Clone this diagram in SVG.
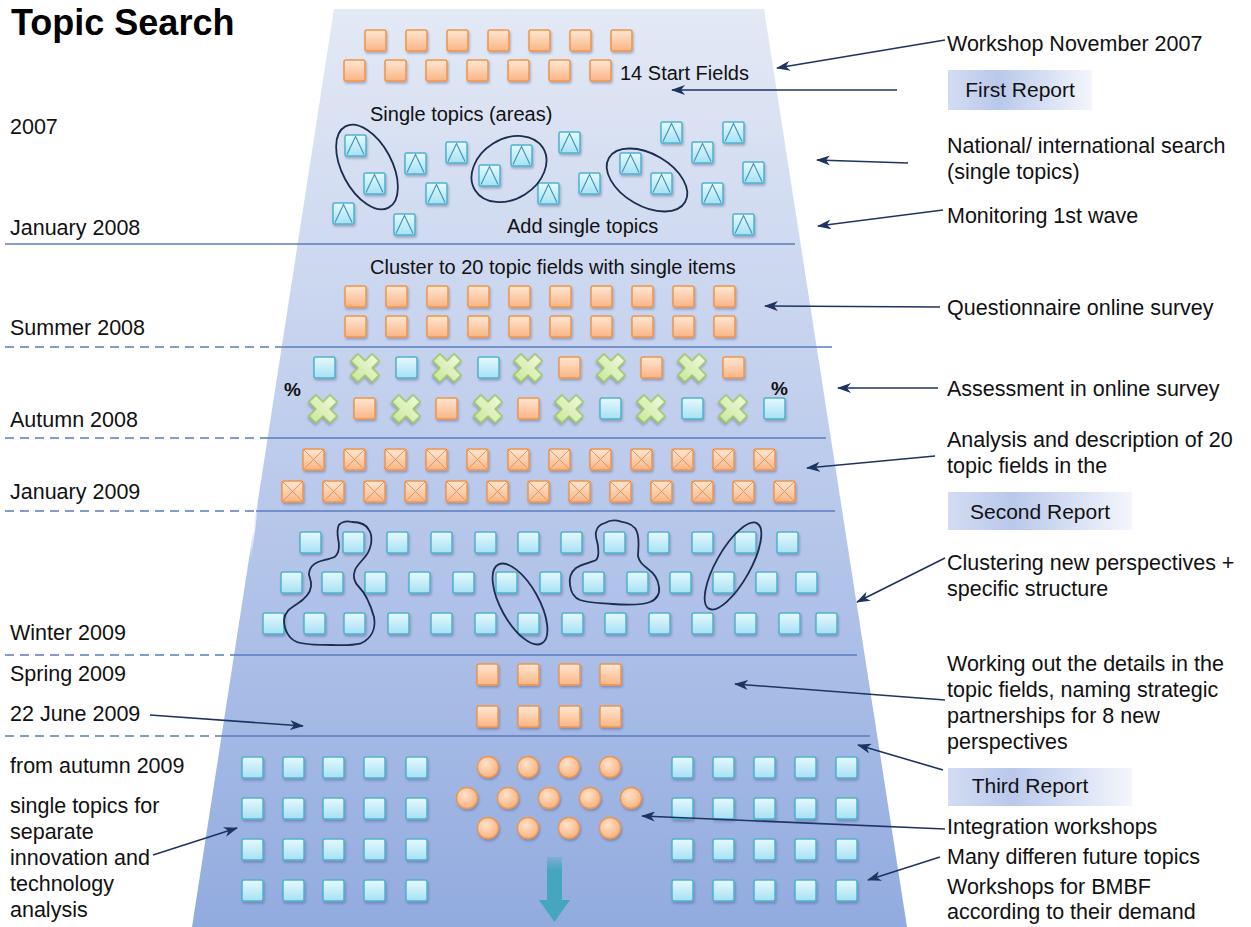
<svg xmlns="http://www.w3.org/2000/svg" width="1251" height="927" viewBox="0 0 1251 927">
<style>
.lbl{font-family:"Liberation Sans",Arial,sans-serif;font-size:21.5px;fill:#111}
.ctr{font-family:"Liberation Sans",Arial,sans-serif;font-size:20px;fill:#111}
.pct{font-family:"Liberation Sans",Arial,sans-serif;font-size:19px;font-weight:bold;fill:#111}
.title{font-family:"Liberation Sans",Arial,sans-serif;font-size:36px;font-weight:bold;fill:#000}
.rep{font-family:"Liberation Sans",Arial,sans-serif;font-size:21px;fill:#111;text-anchor:middle}
.sep{stroke:#5a7dbd;stroke-width:1.3;fill:none}
.dash{stroke:#5a7dbd;stroke-width:1.3;stroke-dasharray:9 6;fill:none}
.arr{stroke:#1d3461;stroke-width:1.6;fill:none;marker-end:url(#ah)}
.blob{stroke:#1c2c4e;stroke-width:1.8;fill:none}
</style>
<defs>
<linearGradient id="bg" x1="0" y1="0" x2="0" y2="1">
<stop offset="0" stop-color="#e3e9f5"/>
<stop offset="0.5" stop-color="#bccbec"/>
<stop offset="1" stop-color="#92abdf"/>
</linearGradient>
<linearGradient id="gO" x1="0" y1="0" x2="0" y2="1">
<stop offset="0" stop-color="#fee7d3"/>
<stop offset="1" stop-color="#fab585"/>
</linearGradient>
<linearGradient id="gB" x1="0" y1="0" x2="0" y2="1">
<stop offset="0" stop-color="#e6f9fe"/>
<stop offset="1" stop-color="#a6e1f4"/>
</linearGradient>
<linearGradient id="gG" x1="0" y1="0" x2="0" y2="1">
<stop offset="0" stop-color="#eef8d9"/>
<stop offset="1" stop-color="#cce99e"/>
</linearGradient>
<radialGradient id="gC" cx="0.4" cy="0.35" r="0.7">
<stop offset="0" stop-color="#fde2cb"/>
<stop offset="1" stop-color="#f8b07a"/>
</radialGradient>
<linearGradient id="gR" x1="0" y1="0" x2="1" y2="0">
<stop offset="0" stop-color="#d3dcf2"/>
<stop offset="0.35" stop-color="#b9c8eb"/>
<stop offset="1" stop-color="#f4f6fc"/>
</linearGradient>
<linearGradient id="gA" x1="0" y1="0" x2="0" y2="1">
<stop offset="0" stop-color="#47a6bf" stop-opacity="0.3"/>
<stop offset="0.3" stop-color="#47a6bf"/>
<stop offset="1" stop-color="#47a6bf"/>
</linearGradient>
<linearGradient id="hl" x1="0" y1="0" x2="0" y2="1">
<stop offset="0" stop-color="#ffffff" stop-opacity="0"/>
<stop offset="0.5" stop-color="#ffffff" stop-opacity="0.9"/>
<stop offset="1" stop-color="#ffffff" stop-opacity="0"/>
</linearGradient>
<filter id="sh" x="-30%" y="-30%" width="170%" height="170%">
<feDropShadow dx="1" dy="2" stdDeviation="1.2" flood-color="#34456e" flood-opacity="0.35"/>
</filter>
<marker id="ah" markerWidth="14" markerHeight="10" refX="13" refY="5" orient="auto" markerUnits="userSpaceOnUse">
<path d="M0,0 L14,5 L0,10 L4,5 z" fill="#1d3461"/>
</marker>
<g id="sqO"><rect x="0" y="0" width="21" height="21" rx="2" fill="url(#gO)" stroke="#f1954a" stroke-width="1.5" filter="url(#sh)"/></g>
<g id="sqB"><rect x="0" y="0" width="21" height="21" rx="2" fill="url(#gB)" stroke="#4fb2cd" stroke-width="1.5" filter="url(#sh)"/></g>
<g id="sqX"><rect x="0" y="0" width="21" height="21" rx="2" fill="url(#gO)" stroke="#f1954a" stroke-width="1.5" filter="url(#sh)"/><path d="M1,1 L20,20 M20,1 L1,20" stroke="#e39660" stroke-width="1"/></g>
<g id="sqT"><rect x="0" y="0" width="21" height="21" rx="1.5" fill="url(#gB)" stroke="#4fb2cd" stroke-width="1.5" filter="url(#sh)"/><path d="M2,19.5 L10.5,1.5 L19,19.5" stroke="#3d93b6" stroke-width="1.1" fill="none"/></g>
<g id="xg"><polygon transform="rotate(45)" points="-5,-15 5,-15 5,-5 15,-5 15,5 5,5 5,15 -5,15 -5,5 -15,5 -15,-5 -5,-5" fill="url(#gG)" stroke="#9cc45c" stroke-width="1.5" stroke-linejoin="round" filter="url(#sh)"/></g>
<g id="cO"><circle cx="0" cy="0" r="10.5" fill="url(#gC)" stroke="#f1954a" stroke-width="1.3" filter="url(#sh)"/></g>
</defs>
<rect width="1251" height="927" fill="#ffffff"/>
<g id="funnel"><polygon points="334,9 764,9 907,927 192,927" fill="url(#bg)"/>
<line x1="258" y1="500" x2="250" y2="560" stroke="url(#hl)" stroke-width="2"/></g>
<g id="separators">
<line class="sep" x1="5" y1="244" x2="795" y2="244"/>
<line class="dash" x1="5" y1="347" x2="282" y2="347"/><line class="sep" x1="282" y1="347" x2="832" y2="347"/>
<line class="dash" x1="5" y1="438" x2="268" y2="438"/><line class="sep" x1="268" y1="438" x2="826" y2="438"/>
<line class="dash" x1="5" y1="511" x2="256" y2="511"/><line class="sep" x1="256" y1="511" x2="835" y2="511"/>
<line class="dash" x1="5" y1="655" x2="234" y2="655"/><line class="sep" x1="234" y1="655" x2="857" y2="655"/>
<line class="dash" x1="5" y1="736" x2="222" y2="736"/><line class="sep" x1="222" y1="736" x2="870" y2="736"/>
</g>
<text class="title" x="11" y="35">Topic Search</text>
<g id="timeline-labels">
<text class="lbl" x="10" y="134">2007</text>
<text class="lbl" x="10" y="235">January 2008</text>
<text class="lbl" x="10" y="335">Summer 2008</text>
<text class="lbl" x="10" y="427">Autumn 2008</text>
<text class="lbl" x="10" y="499">January 2009</text>
<text class="lbl" x="10" y="640">Winter 2009</text>
<text class="lbl" x="10" y="681">Spring 2009</text>
<text class="lbl" x="10" y="721">22 June 2009</text>
<text class="lbl" x="10" y="773">from autumn 2009</text>
<text class="lbl" x="10" y="813">single topics for</text>
<text class="lbl" x="10" y="839">separate</text>
<text class="lbl" x="10" y="865">innovation and</text>
<text class="lbl" x="10" y="891">technology</text>
<text class="lbl" x="10" y="917">analysis</text>
</g>
<g id="start-fields">
<use href="#sqO" x="365" y="30"/><use href="#sqO" x="406" y="30"/><use href="#sqO" x="447" y="30"/><use href="#sqO" x="488" y="30"/><use href="#sqO" x="529" y="30"/><use href="#sqO" x="570" y="30"/><use href="#sqO" x="611" y="30"/>
<use href="#sqO" x="344" y="60"/><use href="#sqO" x="385" y="60"/><use href="#sqO" x="426" y="60"/><use href="#sqO" x="467" y="60"/><use href="#sqO" x="508" y="60"/><use href="#sqO" x="549" y="60"/><use href="#sqO" x="590" y="60"/>
<text class="ctr" x="620" y="80">14 Start Fields</text>
</g>
<g id="single-topics">
<text class="ctr" x="370" y="121">Single topics (areas)</text>
<use href="#sqT" x="345" y="135"/><use href="#sqT" x="364" y="173"/><use href="#sqT" x="405" y="153"/><use href="#sqT" x="446" y="142"/><use href="#sqT" x="426" y="183"/><use href="#sqT" x="333" y="203"/><use href="#sqT" x="394" y="214"/><use href="#sqT" x="479" y="165"/><use href="#sqT" x="511" y="145"/><use href="#sqT" x="538" y="183"/><use href="#sqT" x="559" y="132"/><use href="#sqT" x="579" y="173"/><use href="#sqT" x="620" y="153"/><use href="#sqT" x="651" y="173"/><use href="#sqT" x="661" y="122"/><use href="#sqT" x="692" y="142"/><use href="#sqT" x="723" y="122"/><use href="#sqT" x="702" y="183"/><use href="#sqT" x="743" y="162"/><use href="#sqT" x="733" y="214"/>
<ellipse class="blob" cx="367" cy="167" rx="25" ry="46" transform="rotate(-28 367 167)"/>
<ellipse class="blob" cx="509" cy="169" rx="40" ry="30" transform="rotate(-32 509 169)"/>
<ellipse class="blob" cx="647" cy="180" rx="44" ry="26" transform="rotate(30 647 180)"/>
<text class="ctr" x="507" y="233">Add single topics</text>
</g>
<g id="cluster-fields">
<text class="ctr" x="370" y="274">Cluster to 20 topic fields with single items</text>
<use href="#sqO" x="345" y="286"/><use href="#sqO" x="386" y="286"/><use href="#sqO" x="427" y="286"/><use href="#sqO" x="468" y="286"/><use href="#sqO" x="509" y="286"/><use href="#sqO" x="550" y="286"/><use href="#sqO" x="591" y="286"/><use href="#sqO" x="632" y="286"/><use href="#sqO" x="673" y="286"/><use href="#sqO" x="714" y="286"/>
<use href="#sqO" x="345" y="316"/><use href="#sqO" x="386" y="316"/><use href="#sqO" x="427" y="316"/><use href="#sqO" x="468" y="316"/><use href="#sqO" x="509" y="316"/><use href="#sqO" x="550" y="316"/><use href="#sqO" x="591" y="316"/><use href="#sqO" x="632" y="316"/><use href="#sqO" x="673" y="316"/><use href="#sqO" x="714" y="316"/>
</g>
<g id="assessment">
<text class="pct" x="284" y="396">%</text>
<text class="pct" x="771" y="395">%</text>
<use href="#sqB" x="314" y="357"/><use href="#xg" x="365" y="368"/><use href="#sqB" x="396" y="357"/><use href="#xg" x="447" y="368"/><use href="#sqB" x="478" y="357"/><use href="#xg" x="528" y="368"/><use href="#sqO" x="559" y="357"/><use href="#xg" x="611" y="368"/><use href="#sqO" x="641" y="357"/><use href="#xg" x="692" y="368"/><use href="#sqO" x="723" y="357"/>
<use href="#xg" x="323" y="409"/><use href="#sqO" x="354" y="398"/><use href="#xg" x="406" y="409"/><use href="#sqO" x="436" y="398"/><use href="#xg" x="488" y="409"/><use href="#sqO" x="518" y="398"/><use href="#xg" x="569" y="409"/><use href="#sqB" x="600" y="398"/><use href="#xg" x="651" y="409"/><use href="#sqB" x="682" y="398"/><use href="#xg" x="733" y="409"/><use href="#sqB" x="764" y="398"/>
</g>
<g id="analysis-fields">
<use href="#sqX" x="303" y="449"/><use href="#sqX" x="344" y="449"/><use href="#sqX" x="385" y="449"/><use href="#sqX" x="426" y="449"/><use href="#sqX" x="467" y="449"/><use href="#sqX" x="508" y="449"/><use href="#sqX" x="549" y="449"/><use href="#sqX" x="590" y="449"/><use href="#sqX" x="631" y="449"/><use href="#sqX" x="672" y="449"/><use href="#sqX" x="713" y="449"/><use href="#sqX" x="754" y="449"/>
<use href="#sqX" x="282" y="481"/><use href="#sqX" x="323" y="481"/><use href="#sqX" x="364" y="481"/><use href="#sqX" x="405" y="481"/><use href="#sqX" x="446" y="481"/><use href="#sqX" x="487" y="481"/><use href="#sqX" x="528" y="481"/><use href="#sqX" x="569" y="481"/><use href="#sqX" x="610" y="481"/><use href="#sqX" x="651" y="481"/><use href="#sqX" x="692" y="481"/><use href="#sqX" x="733" y="481"/><use href="#sqX" x="774" y="481"/>
</g>
<g id="new-perspectives">
<use href="#sqB" x="300" y="532"/><use href="#sqB" x="343" y="532"/><use href="#sqB" x="387" y="532"/><use href="#sqB" x="431" y="532"/><use href="#sqB" x="475" y="532"/><use href="#sqB" x="518" y="532"/><use href="#sqB" x="561" y="532"/><use href="#sqB" x="604" y="532"/><use href="#sqB" x="648" y="532"/><use href="#sqB" x="692" y="532"/><use href="#sqB" x="735" y="532"/><use href="#sqB" x="777" y="532"/>
<use href="#sqB" x="281" y="572"/><use href="#sqB" x="322" y="572"/><use href="#sqB" x="365" y="572"/><use href="#sqB" x="409" y="572"/><use href="#sqB" x="453" y="572"/><use href="#sqB" x="496" y="572"/><use href="#sqB" x="540" y="572"/><use href="#sqB" x="583" y="572"/><use href="#sqB" x="627" y="572"/><use href="#sqB" x="670" y="572"/><use href="#sqB" x="713" y="572"/><use href="#sqB" x="756" y="572"/><use href="#sqB" x="796" y="572"/>
<use href="#sqB" x="263" y="613"/><use href="#sqB" x="304" y="613"/><use href="#sqB" x="344" y="613"/><use href="#sqB" x="388" y="613"/><use href="#sqB" x="431" y="613"/><use href="#sqB" x="475" y="613"/><use href="#sqB" x="518" y="613"/><use href="#sqB" x="562" y="613"/><use href="#sqB" x="605" y="613"/><use href="#sqB" x="649" y="613"/><use href="#sqB" x="692" y="613"/><use href="#sqB" x="735" y="613"/><use href="#sqB" x="779" y="613"/><use href="#sqB" x="816" y="613"/>
<path class="blob" d="M338.8,525 C343,521 348,521 352,522 C362,522 367,526 369,530 C373,536 372,547 366.5,555 C362,561 357,565 355,570 C352,578 355,583 359,587 C365,593 370,603 374,617 C376,628 372,638 361,643.3 C350,646 340,645 331,645 C318,645 305,645 297,642 C289,639 284,630 284,620 C285,612 289,609 297,604 C305,599 310,594 311,586.7 C312,579 308,576 309,573 C310,567 313,564 318,562 C324,560 330,559 335,556.7 C340,552 339,547 338.8,543 C338,537 336,532 338.8,525 Z"/>
<ellipse class="blob" cx="520" cy="604" rx="19" ry="45" transform="rotate(-29 520 604)"/>
<path class="blob" d="M605,523 C610,520 616,520 621,521.7 C630,523 635,526 637,532 C640,540 638,549 638,556 C639,562 643,565 648,569 C654,573 658,579 659,587 C660,594 657,599 650,602 C640,606 625,605 612,604 C600,603 588,603 580,600 C573,597 571,592 570,585 C569,578 571,572 576,568 C581,564 590,563 596,560 C600,556 598,550 598,546 C597,540 595,536 596,532 C597,527 601,524 605,523 Z"/>
<ellipse class="blob" cx="733" cy="566" rx="17" ry="49" transform="rotate(29.5 733 566)"/>
</g>
<g id="details">
<use href="#sqO" x="477" y="664"/><use href="#sqO" x="518" y="664"/><use href="#sqO" x="559" y="664"/><use href="#sqO" x="600" y="664"/>
<use href="#sqO" x="477" y="706"/><use href="#sqO" x="518" y="706"/><use href="#sqO" x="559" y="706"/><use href="#sqO" x="600" y="706"/>
</g>
<g id="separate-topics">
<use href="#sqB" x="242" y="757"/><use href="#sqB" x="283" y="757"/><use href="#sqB" x="323" y="757"/><use href="#sqB" x="364" y="757"/><use href="#sqB" x="406" y="757"/>
<use href="#sqB" x="242" y="798"/><use href="#sqB" x="283" y="798"/><use href="#sqB" x="323" y="798"/><use href="#sqB" x="364" y="798"/><use href="#sqB" x="406" y="798"/>
<use href="#sqB" x="242" y="839"/><use href="#sqB" x="283" y="839"/><use href="#sqB" x="323" y="839"/><use href="#sqB" x="364" y="839"/><use href="#sqB" x="406" y="839"/>
<use href="#sqB" x="242" y="880"/><use href="#sqB" x="283" y="880"/><use href="#sqB" x="323" y="880"/><use href="#sqB" x="364" y="880"/><use href="#sqB" x="406" y="880"/>
</g>
<g id="integration-workshops">
<use href="#cO" x="488" y="767"/><use href="#cO" x="528" y="767"/><use href="#cO" x="569" y="767"/><use href="#cO" x="610" y="767"/>
<use href="#cO" x="467" y="798"/><use href="#cO" x="508" y="798"/><use href="#cO" x="549" y="798"/><use href="#cO" x="590" y="798"/><use href="#cO" x="631" y="798"/>
<use href="#cO" x="488" y="828"/><use href="#cO" x="528" y="828"/><use href="#cO" x="569" y="828"/><use href="#cO" x="610" y="828"/>
</g>
<g id="future-topics">
<use href="#sqB" x="672" y="757"/><use href="#sqB" x="713" y="757"/><use href="#sqB" x="754" y="757"/><use href="#sqB" x="795" y="757"/><use href="#sqB" x="836" y="757"/>
<use href="#sqB" x="672" y="798"/><use href="#sqB" x="713" y="798"/><use href="#sqB" x="754" y="798"/><use href="#sqB" x="795" y="798"/><use href="#sqB" x="836" y="798"/>
<use href="#sqB" x="672" y="839"/><use href="#sqB" x="713" y="839"/><use href="#sqB" x="754" y="839"/><use href="#sqB" x="795" y="839"/><use href="#sqB" x="836" y="839"/>
<use href="#sqB" x="672" y="880"/><use href="#sqB" x="713" y="880"/><use href="#sqB" x="754" y="880"/><use href="#sqB" x="795" y="880"/><use href="#sqB" x="836" y="880"/>
</g>
<g id="down-arrow">
<rect x="547" y="857" width="15" height="44" fill="url(#gA)"/>
<polygon points="539,900 570,900 554.5,922" fill="#47a6bf"/>
</g>
<g id="first-report"><rect x="948" y="70" width="144" height="40" fill="url(#gR)"/><text class="rep" x="1020" y="97">First Report</text></g>
<g id="second-report"><rect x="948" y="492" width="184" height="38" fill="url(#gR)"/><text class="rep" x="1040" y="519">Second Report</text></g>
<g id="third-report"><rect x="948" y="768" width="184" height="38" fill="url(#gR)"/><text class="rep" x="1030" y="793">Third Report</text></g>
<g id="right-labels">
<text class="lbl" x="947" y="51">Workshop November 2007</text>
<text class="lbl" x="947" y="153">National/ international search</text>
<text class="lbl" x="947" y="179">(single topics)</text>
<text class="lbl" x="947" y="223">Monitoring 1st wave</text>
<text class="lbl" x="947" y="315">Questionnaire online survey</text>
<text class="lbl" x="947" y="396">Assessment in online survey</text>
<text class="lbl" x="947" y="447">Analysis and description of 20</text>
<text class="lbl" x="947" y="473">topic fields in the</text>
<text class="lbl" x="947" y="570">Clustering new perspectives +</text>
<text class="lbl" x="947" y="596">specific structure</text>
<text class="lbl" x="947" y="671">Working out the details in the</text>
<text class="lbl" x="947" y="697">topic fields, naming strategic</text>
<text class="lbl" x="947" y="723">partnerships for 8 new</text>
<text class="lbl" x="947" y="749">perspectives</text>
<text class="lbl" x="947" y="834">Integration workshops</text>
<text class="lbl" x="947" y="864">Many differen future topics</text>
<text class="lbl" x="947" y="894">Workshops for BMBF</text>
<text class="lbl" x="947" y="919">according to their demand</text>
</g>
<g id="connectors">
<line class="arr" x1="945" y1="40" x2="777" y2="68"/>
<line class="arr" x1="897" y1="90" x2="672" y2="90"/>
<line class="arr" x1="908" y1="163" x2="817" y2="160"/>
<line class="arr" x1="943" y1="210" x2="818" y2="226"/>
<line class="arr" x1="940" y1="307" x2="765" y2="306"/>
<line class="arr" x1="938" y1="388" x2="838" y2="388"/>
<line class="arr" x1="935" y1="456" x2="807" y2="468"/>
<line class="arr" x1="945" y1="558" x2="857" y2="602"/>
<line class="arr" x1="945" y1="700" x2="735" y2="684"/>
<line class="arr" x1="943" y1="770" x2="858" y2="745"/>
<line class="arr" x1="945" y1="829" x2="642" y2="816"/>
<line class="arr" x1="940" y1="857" x2="868" y2="880"/>
<line class="arr" x1="150" y1="715" x2="303" y2="726"/>
<line class="arr" x1="153" y1="855" x2="237" y2="828"/>
</g>
</svg>
